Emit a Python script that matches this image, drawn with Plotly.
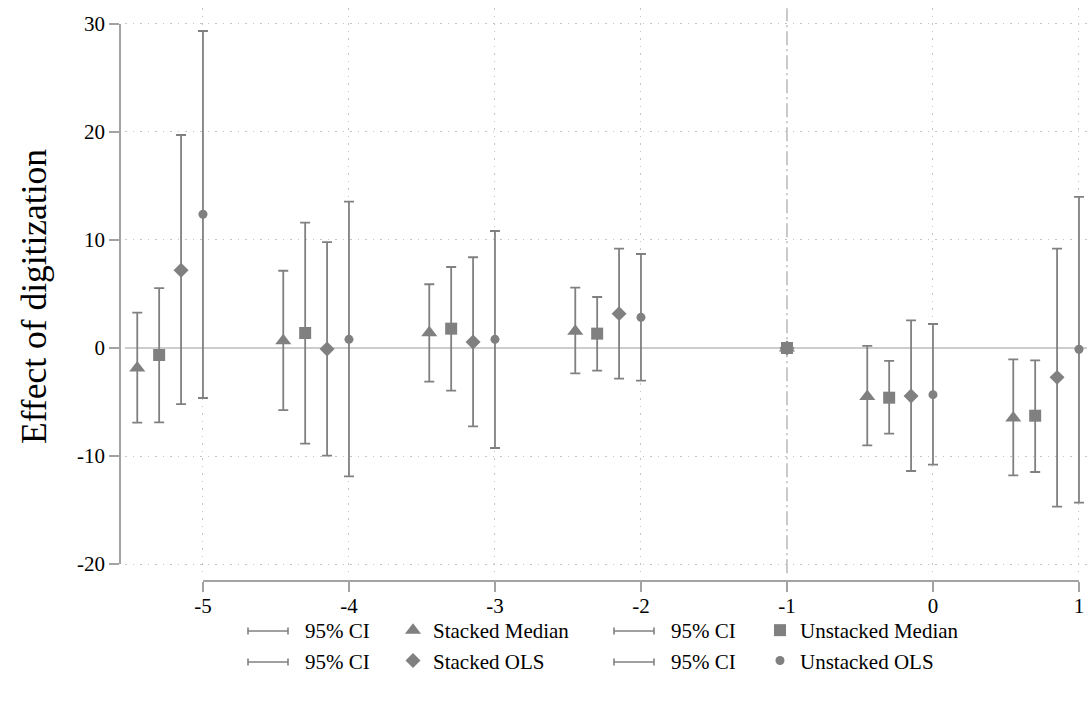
import plotly.graph_objects as go

W, H = 1088, 704

# ---------------- data ----------------
event_time = [-5, -4, -3, -2, -1, 0, 1]
reference_period = -1
x_tick_labels = ['-5', '-4', '-3', '-2', '-1', '0', '1']
y_tick_values = [-20, -10, 0, 10, 20, 30]
y_tick_labels = ['-20', '-10', '0', '10', '20', '30']

series_names = ['Stacked Median', 'Unstacked Median', 'Stacked OLS', 'Unstacked OLS']
series_offsets = [-0.45, -0.30, -0.15, 0.0]
series_symbols = ['triangle-up', 'square', 'diamond', 'circle']
series_sizes = [14, 12, 11.5, 9]
series_legends = ['legend', 'legend2', 'legend', 'legend2']

stacked_median_coef = [-1.86, 0.68, 1.41, 1.56, 0.0, -4.49, -6.48]
stacked_median_lo = [-6.91, -5.76, -3.12, -2.35, None, -9.01, -11.79]
stacked_median_hi = [3.27, 7.15, 5.90, 5.59, None, 0.19, -1.05]

unstacked_median_coef = [-0.65, 1.39, 1.79, 1.33, 0.0, -4.60, -6.27]
unstacked_median_lo = [-6.88, -8.86, -3.95, -2.10, None, -7.93, -11.48]
unstacked_median_hi = [5.55, 11.60, 7.50, 4.72, None, -1.20, -1.14]

stacked_ols_coef = [7.20, -0.09, 0.56, 3.18, 0.0, -4.44, -2.72]
stacked_ols_lo = [-5.19, -9.97, -7.25, -2.84, None, -11.39, -14.69]
stacked_ols_hi = [19.72, 9.81, 8.40, 9.20, None, 2.56, 9.20]

unstacked_ols_coef = [12.38, 0.80, 0.80, 2.84, 0.0, -4.32, -0.12]
unstacked_ols_lo = [-4.63, -11.88, -9.26, -3.02, None, -10.80, -14.32]
unstacked_ols_hi = [29.35, 13.55, 10.83, 8.70, None, 2.22, 14.00]

ci_label = '95% CI'
y_title = 'Effect of digitization'

# ---------------- styling ----------------
FONT = 'Liberation Serif, Times New Roman, serif'
MARK = '#808080'
AXIS = '#a3a3a3'
GRID = '#c4c4c4'
REF = '#bdbdbd'


def fx(px):
    return px / W


def fy(py):
    return 1 - py / H


coefs = [stacked_median_coef, unstacked_median_coef, stacked_ols_coef, unstacked_ols_coef]
los = [stacked_median_lo, unstacked_median_lo, stacked_ols_lo, unstacked_ols_lo]
his = [stacked_median_hi, unstacked_median_hi, stacked_ols_hi, unstacked_ols_hi]

fig = go.Figure()

for name, off, sym, size, lg, c, lo, hi in zip(series_names, series_offsets, series_symbols,
                                               series_sizes, series_legends, coefs, los, his):
    xs = [t if t == reference_period else t + off for t in event_time]
    plus = [None if h is None else h - v for v, h in zip(c, hi)]
    minus = [None if l is None else v - l for v, l in zip(c, lo)]
    fig.add_trace(go.Scatter(
        x=xs, y=c, mode='markers', name=name, legend=lg,
        marker=dict(symbol=sym, size=size, color=MARK, line=dict(width=0)),
        error_y=dict(type='data', symmetric=False, array=plus, arrayminus=minus,
                     color=MARK, thickness=1.8, width=5),
        cliponaxis=False,
    ))

# invisible trace to instantiate the displayed (offset) axes
fig.add_trace(go.Scatter(x=[event_time[0]], y=[y_tick_values[0]], xaxis='x2', yaxis='y2',
                         mode='markers', marker=dict(opacity=0), showlegend=False,
                         hoverinfo='skip'))

grid_x = [t for t in event_time if t != reference_period]
grid_y = [v for v in y_tick_values if v != 0]

fig.update_layout(
    template='none',
    width=W, height=H,
    margin=dict(l=0, r=0, t=0, b=0, pad=0),
    paper_bgcolor='white',
    plot_bgcolor='rgba(0,0,0,0)',
    font=dict(family=FONT, size=21, color='black'),
    xaxis=dict(domain=[fx(125), fx(1087)], range=[-5.534, 1.055], automargin=False,
               tickvals=grid_x, showticklabels=False, ticks='', showline=False,
               zeroline=False, showgrid=True, gridcolor=GRID, gridwidth=1,
               griddash='1.5px,6px'),
    yaxis=dict(domain=[fy(573.3), fy(8.3)], range=[-20.86, 31.45], automargin=False,
               tickvals=grid_y, showticklabels=False, ticks='', showline=False,
               zeroline=False, showgrid=True, gridcolor=GRID, gridwidth=1,
               griddash='1.5px,6px'),
    xaxis2=dict(domain=[fx(203), fx(1079)], range=[event_time[0], event_time[-1]],
                anchor='free', position=fy(581), automargin=False,
                tickvals=event_time, ticktext=x_tick_labels,
                ticks='outside', ticklen=10, tickwidth=1.8, tickcolor=AXIS,
                ticklabelstandoff=-4,
                showline=True, linecolor=AXIS, linewidth=1.8,
                showgrid=False, zeroline=False,
                tickfont=dict(family=FONT, size=21, color='black')),
    yaxis2=dict(domain=[fy(564), fy(24)], range=[y_tick_values[0], y_tick_values[-1]],
                anchor='free', position=fx(120), side='left', automargin=False,
                tickvals=y_tick_values, ticktext=y_tick_labels,
                ticks='outside', ticklen=10, tickwidth=1.8, tickcolor=AXIS,
                showline=True, linecolor=AXIS, linewidth=1.8,
                showgrid=False, zeroline=False,
                tickfont=dict(family=FONT, size=21, color='black')),
    legend=dict(x=fx(393), y=fy(610), xanchor='left', yanchor='top',
                bgcolor='rgba(0,0,0,0)', font=dict(family=FONT, size=21, color='black'),
                itemclick=False, itemdoubleclick=False),
    legend2=dict(x=fx(760), y=fy(610), xanchor='left', yanchor='top',
                 bgcolor='rgba(0,0,0,0)', font=dict(family=FONT, size=21, color='black'),
                 itemclick=False, itemdoubleclick=False),
    showlegend=True,
)

# reference lines
fig.add_shape(type='line', xref='x domain', x0=0, x1=1, yref='y', y0=0, y1=0,
              line=dict(color=REF, width=1.6), layer='below')
fig.add_shape(type='line', xref='x', x0=reference_period, x1=reference_period,
              yref='y domain', y0=0, y1=1,
              line=dict(color=REF, width=1.6, dash='14px,4px,2px,4px'), layer='below')

# manual CI legend entries (capped line + label)
for row_y in (631, 662):
    for left in (248, 614):
        right = left + 40
        fig.add_shape(type='line', xref='paper', yref='paper', x0=fx(left), x1=fx(right),
                      y0=fy(row_y), y1=fy(row_y), line=dict(color=MARK, width=1.6))
        for cx in (left, right):
            fig.add_shape(type='line', xref='paper', yref='paper', x0=fx(cx), x1=fx(cx),
                          y0=fy(row_y - 3.5), y1=fy(row_y + 3.5), line=dict(color=MARK, width=1.6))
        fig.add_annotation(text=ci_label, xref='paper', yref='paper', x=fx(right + 15),
                           y=fy(row_y), xanchor='left', yanchor='middle', showarrow=False,
                           font=dict(family=FONT, size=21, color='black'))

fig.add_annotation(text=y_title, xref='paper', yref='paper', x=fx(34), y=fy(297),
                   textangle=-90, xanchor='center', yanchor='middle', showarrow=False,
                   font=dict(family=FONT, size=35.5, color='black'))

fig.write_html('out.html')
